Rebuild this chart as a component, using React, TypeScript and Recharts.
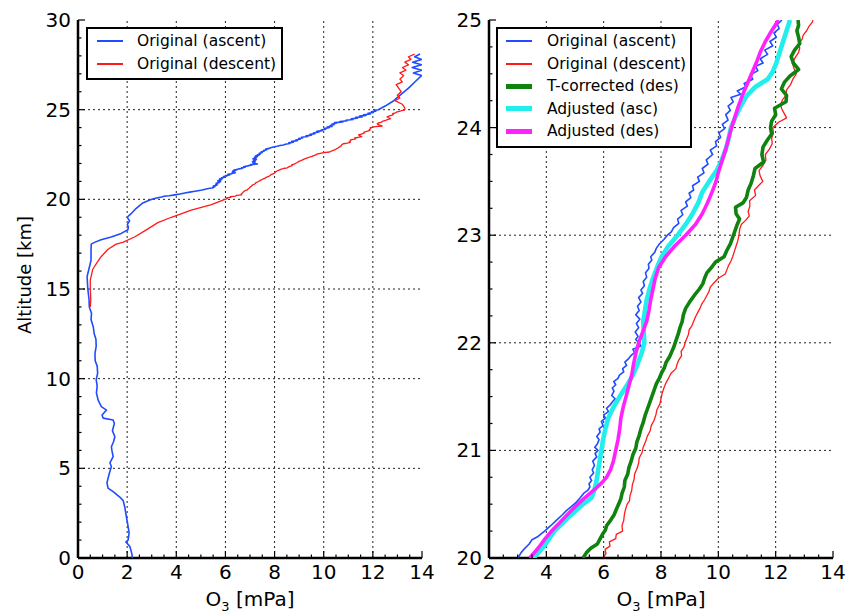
import { ScatterChart, Scatter, XAxis, YAxis, ReferenceLine, Legend } from "recharts";

// [altitude km, O3 partial pressure mPa]
type Pt = [number, number];

const ascent: Pt[] = [
  [0, 2.22], [0.3, 2.18], [0.64, 2.11], [0.9, 1.95], [1.0, 2.04], [1.4, 2.08], [1.75, 2.04], [2.3, 1.97],
  [2.86, 1.9], [3.2, 1.84], [3.4, 1.7], [3.7, 1.43], [3.9, 1.22], [4.2, 1.18], [4.7, 1.27], [5.1, 1.36],
  [5.3, 1.3], [5.65, 1.43], [6.0, 1.38], [6.2, 1.36], [6.5, 1.45], [6.76, 1.5], [7.1, 1.4], [7.5, 1.48],
  [7.7, 1.43], [7.8, 1.02], [7.97, 0.98], [8.25, 1.16], [8.44, 0.95], [8.8, 0.82], [9.2, 0.75], [9.6, 0.78],
  [9.93, 0.74], [10.3, 0.8], [10.7, 0.78], [11.0, 0.7], [11.4, 0.69], [11.8, 0.74], [12.2, 0.73], [12.5, 0.66],
  [12.9, 0.62], [13.3, 0.53], [13.65, 0.55], [14.0, 0.46], [14.4, 0.45], [15.0, 0.4], [15.7, 0.37], [16.2, 0.46],
  [16.6, 0.53], [17.2, 0.53], [17.5, 0.54], [17.6, 0.67], [17.75, 0.94], [17.9, 1.35], [18.1, 1.76], [18.3, 2.03],
  [18.45, 2.05], [18.6, 2.01], [18.8, 2.1], [19.0, 2.0], [19.2, 2.16], [19.5, 2.37], [19.8, 2.64], [19.95, 2.9],
  [20.0, 3.01], [20.05, 3.12], [20.09, 3.25], [20.13, 3.4], [20.17, 3.5], [20.2, 3.71], [20.25, 3.94], [20.3, 4.15],
  [20.35, 4.35], [20.4, 4.55], [20.44, 4.7], [20.48, 4.88], [20.52, 5.05], [20.56, 5.18], [20.6, 5.3], [20.63, 5.45],
  [20.66, 5.52], [20.69, 5.49], [20.72, 5.58], [20.75, 5.52], [20.79, 5.65], [20.82, 5.6], [20.86, 5.68], [20.9, 5.62],
  [20.94, 5.76], [20.97, 5.7], [21.0, 5.8], [21.03, 5.69], [21.06, 5.78], [21.1, 5.84], [21.13, 5.76], [21.17, 5.88],
  [21.2, 5.84], [21.23, 5.98], [21.27, 5.92], [21.3, 6.06], [21.33, 6.0], [21.36, 6.17], [21.39, 6.1], [21.42, 6.22],
  [21.45, 6.3], [21.48, 6.4], [21.51, 6.28], [21.55, 6.36], [21.58, 6.3], [21.61, 6.42], [21.64, 6.35], [21.67, 6.5],
  [21.7, 6.55], [21.73, 6.7], [21.76, 6.66], [21.79, 6.8], [21.82, 6.74], [21.85, 6.86], [21.88, 6.95], [21.91, 7.08],
  [21.94, 7.02], [21.97, 7.3], [22.0, 7.22], [22.03, 7.12], [22.06, 7.2], [22.1, 7.1], [22.14, 7.22], [22.18, 7.14],
  [22.22, 7.26], [22.26, 7.12], [22.3, 7.24], [22.34, 7.18], [22.38, 7.3], [22.42, 7.22], [22.46, 7.36], [22.49, 7.3],
  [22.53, 7.42], [22.57, 7.38], [22.61, 7.5], [22.65, 7.46], [22.69, 7.58], [22.73, 7.56], [22.77, 7.68], [22.8, 7.64],
  [22.84, 7.78], [22.88, 7.84], [22.92, 7.95], [22.96, 8.1], [23.0, 8.22], [23.03, 8.36], [23.07, 8.44], [23.11, 8.62],
  [23.15, 8.58], [23.19, 8.76], [23.23, 8.7], [23.27, 8.92], [23.31, 8.86], [23.35, 9.04], [23.39, 8.98], [23.42, 9.14],
  [23.46, 9.1], [23.5, 9.34], [23.54, 9.28], [23.58, 9.5], [23.62, 9.44], [23.66, 9.64], [23.7, 9.58], [23.75, 9.8],
  [23.79, 9.72], [23.83, 9.94], [23.87, 9.9], [23.91, 10.08], [23.95, 10.02], [23.99, 10.22], [24.03, 10.14], [24.07, 10.34],
  [24.12, 10.26], [24.16, 10.42], [24.2, 10.34], [24.24, 10.52], [24.28, 10.44], [24.31, 10.78], [24.34, 10.66], [24.38, 10.96],
  [24.41, 10.9], [24.45, 11.2], [24.49, 11.12], [24.53, 11.38], [24.57, 11.3], [24.6, 11.56], [24.64, 11.46], [24.68, 11.72],
  [24.72, 11.62], [24.76, 11.9], [24.8, 11.8], [24.84, 12.02], [24.88, 11.94], [24.92, 12.12], [24.96, 12.06], [25.0, 12.22],
  [25.2, 12.5], [25.5, 12.85], [25.8, 13.1], [26.2, 13.45], [26.6, 13.75], [26.9, 13.98], [27.05, 13.65], [27.2, 13.98],
  [27.35, 13.6], [27.5, 13.98], [27.65, 13.62], [27.8, 13.98], [27.95, 13.7], [28.1, 13.92],
];

const descent: Pt[] = [
  [14.0, 0.5], [14.4, 0.52], [15.0, 0.5], [15.5, 0.5], [16.1, 0.6], [16.4, 0.74], [16.8, 0.94], [17.2, 1.21],
  [17.5, 1.55], [17.6, 1.82], [17.9, 2.3], [18.3, 2.78], [18.7, 3.25], [19.0, 3.8], [19.4, 4.61], [19.7, 5.43],
  [19.9, 5.8], [20.0, 5.98], [20.04, 6.08], [20.08, 6.05], [20.11, 6.22], [20.15, 6.2], [20.18, 6.42], [20.22, 6.44],
  [20.25, 6.66], [20.3, 6.64], [20.35, 6.7], [20.4, 6.72], [20.45, 6.76], [20.5, 6.82], [20.53, 6.9], [20.58, 6.92],
  [20.63, 6.98], [20.68, 7.0], [20.73, 7.06], [20.78, 7.08], [20.83, 7.16], [20.88, 7.22], [20.93, 7.24], [20.98, 7.34],
  [21.03, 7.38], [21.08, 7.46], [21.13, 7.52], [21.18, 7.62], [21.23, 7.66], [21.28, 7.76], [21.33, 7.82], [21.38, 7.86],
  [21.43, 7.96], [21.48, 8.0], [21.53, 8.04], [21.58, 8.1], [21.63, 8.18], [21.68, 8.28], [21.72, 8.36], [21.76, 8.52],
  [21.8, 8.56], [21.84, 8.62], [21.88, 8.72], [21.92, 8.7], [21.96, 8.8], [22.0, 8.84], [22.04, 8.9], [22.08, 8.96],
  [22.12, 8.98], [22.16, 9.08], [22.2, 9.14], [22.24, 9.2], [22.28, 9.28], [22.32, 9.36], [22.36, 9.42], [22.4, 9.52],
  [22.44, 9.6], [22.48, 9.68], [22.52, 9.72], [22.56, 9.86], [22.6, 10.0], [22.64, 10.24], [22.68, 10.3], [22.72, 10.36],
  [22.76, 10.44], [22.8, 10.5], [22.85, 10.56], [22.9, 10.62], [22.95, 10.68], [23.0, 10.72], [23.05, 10.74], [23.1, 10.8],
  [23.14, 10.96], [23.18, 11.08], [23.22, 11.04], [23.27, 11.1], [23.32, 11.09], [23.37, 11.3], [23.42, 11.26], [23.46, 11.4],
  [23.5, 11.55], [23.55, 11.46], [23.6, 11.42], [23.65, 11.56], [23.7, 11.66], [23.75, 11.64], [23.8, 11.78], [23.85, 11.88],
  [23.9, 11.86], [23.95, 11.92], [24.0, 11.9], [24.05, 12.1], [24.09, 12.38], [24.13, 12.3], [24.18, 12.2], [24.22, 12.18],
  [24.26, 12.24], [24.3, 12.36], [24.35, 12.38], [24.4, 12.52], [24.45, 12.6], [24.5, 12.72], [24.55, 12.64], [24.6, 12.58],
  [24.65, 12.68], [24.7, 12.8], [24.74, 12.84], [24.78, 12.8], [24.82, 12.92], [24.86, 12.96], [24.9, 13.08], [24.94, 13.16],
  [24.98, 13.28], [25.0, 13.3], [25.1, 13.3], [25.3, 13.2], [25.5, 12.9], [25.65, 13.1], [25.8, 13.0], [26.0, 13.15],
  [26.2, 13.05], [26.4, 12.95], [26.55, 13.2], [26.7, 13.1], [26.9, 13.25], [27.05, 13.1], [27.2, 13.35], [27.35, 13.2],
  [27.5, 13.45], [27.65, 13.3], [27.8, 13.55], [27.95, 13.45], [28.1, 13.7],
];

const tCorrectedDes: Pt[] = [
  [20.0, 5.28], [20.05, 5.4], [20.09, 5.55], [20.13, 5.78], [20.17, 5.86], [20.22, 5.96], [20.26, 6.06], [20.3, 6.1],
  [20.35, 6.24], [20.4, 6.36], [20.45, 6.44], [20.5, 6.52], [20.55, 6.6], [20.6, 6.64], [20.66, 6.72], [20.72, 6.74],
  [20.78, 6.84], [20.84, 6.88], [20.9, 6.96], [20.96, 7.02], [21.02, 7.12], [21.08, 7.16], [21.14, 7.24], [21.2, 7.3],
  [21.26, 7.38], [21.32, 7.44], [21.38, 7.52], [21.44, 7.6], [21.5, 7.68], [21.56, 7.76], [21.62, 7.84], [21.67, 7.94],
  [21.72, 8.02], [21.77, 8.12], [21.82, 8.18], [21.87, 8.3], [21.92, 8.38], [21.97, 8.46], [22.02, 8.52], [22.08, 8.6],
  [22.14, 8.66], [22.2, 8.74], [22.26, 8.78], [22.32, 8.86], [22.38, 9.0], [22.44, 9.16], [22.5, 9.34], [22.55, 9.46],
  [22.6, 9.52], [22.65, 9.6], [22.7, 9.76], [22.75, 9.9], [22.8, 10.2], [22.86, 10.3], [22.92, 10.42], [22.98, 10.5],
  [23.04, 10.58], [23.1, 10.66], [23.15, 10.74], [23.2, 10.62], [23.26, 10.6], [23.3, 10.86], [23.35, 10.98], [23.42, 11.04],
  [23.48, 11.14], [23.55, 11.22], [23.62, 11.28], [23.68, 11.58], [23.75, 11.52], [23.82, 11.56], [23.88, 11.7], [23.94, 11.86],
  [24.0, 11.82], [24.06, 11.86], [24.12, 12.0], [24.18, 11.96], [24.24, 12.36], [24.3, 12.38], [24.36, 12.2], [24.42, 12.3],
  [24.48, 12.5], [24.54, 12.8], [24.6, 12.62], [24.66, 12.54], [24.72, 12.66], [24.78, 12.84], [24.84, 12.8], [24.9, 12.74],
  [24.95, 12.8], [25.0, 12.78],
];

const adjustedAsc: Pt[] = [
  [20.0, 3.55], [20.05, 3.72], [20.1, 3.9], [20.18, 4.1], [20.25, 4.28], [20.32, 4.55], [20.4, 4.86], [20.47, 5.15],
  [20.52, 5.38], [20.56, 5.58], [20.62, 5.66], [20.7, 5.74], [20.8, 5.8], [20.9, 5.86], [21.0, 5.92], [21.1, 5.98],
  [21.2, 6.06], [21.3, 6.16], [21.4, 6.34], [21.5, 6.56], [21.6, 6.8], [21.7, 7.02], [21.8, 7.18], [21.9, 7.32],
  [22.0, 7.42], [22.1, 7.4], [22.2, 7.38], [22.3, 7.44], [22.4, 7.5], [22.5, 7.6], [22.6, 7.72], [22.7, 7.86],
  [22.8, 8.02], [22.9, 8.26], [23.0, 8.58], [23.1, 8.86], [23.2, 9.1], [23.3, 9.3], [23.4, 9.44], [23.5, 9.68],
  [23.6, 9.94], [23.7, 10.12], [23.8, 10.26], [23.9, 10.36], [24.0, 10.44], [24.1, 10.6], [24.2, 10.78], [24.3, 11.0],
  [24.38, 11.3], [24.45, 11.72], [24.52, 11.9], [24.6, 12.02], [24.7, 12.14], [24.8, 12.26], [24.9, 12.38], [25.0, 12.5],
];

const adjustedDes: Pt[] = [
  [20.0, 3.42], [20.05, 3.58], [20.1, 3.74], [20.18, 3.96], [20.25, 4.18], [20.32, 4.44], [20.4, 4.72], [20.48, 5.02],
  [20.55, 5.3], [20.6, 5.52], [20.65, 5.74], [20.7, 5.94], [20.75, 6.1], [20.82, 6.24], [20.9, 6.34], [21.0, 6.42],
  [21.1, 6.5], [21.2, 6.56], [21.3, 6.6], [21.4, 6.68], [21.5, 6.78], [21.6, 6.88], [21.7, 6.98], [21.8, 7.04],
  [21.9, 7.12], [22.0, 7.22], [22.1, 7.36], [22.2, 7.5], [22.3, 7.58], [22.4, 7.64], [22.5, 7.72], [22.6, 7.8],
  [22.7, 7.92], [22.8, 8.16], [22.9, 8.48], [23.0, 8.86], [23.1, 9.2], [23.2, 9.44], [23.3, 9.62], [23.4, 9.78],
  [23.5, 9.92], [23.6, 10.02], [23.7, 10.14], [23.8, 10.26], [23.9, 10.36], [24.0, 10.46], [24.1, 10.58], [24.2, 10.7],
  [24.3, 10.84], [24.4, 11.0], [24.5, 11.16], [24.6, 11.32], [24.7, 11.46], [24.8, 11.64], [24.9, 11.86], [25.0, 12.1],
];

const leftXLabels = [0, 2, 4, 6, 8, 10, 12, 14];
const leftYLabels = [0, 5, 10, 15, 20, 25, 30];
const rightXLabels = [2, 4, 6, 8, 10, 12, 14];
const rightYLabels = [20, 21, 22, 23, 24, 25];

const FONT = "'DejaVu Sans', sans-serif";

const S_ASC = { name: "Original (ascent)", color: "#1f4cff", width: 1.6, key: 2 };
const S_DES = { name: "Original (descent)", color: "#ff1a1a", width: 1.3, key: 2 };
const S_TCOR = { name: "T-corrected (des)", color: "#0f820f", width: 3.6, key: 4.5 };
const S_ADJA = { name: "Adjusted (asc)", color: "#22eeee", width: 4.6, key: 5 };
const S_ADJD = { name: "Adjusted (des)", color: "#ff22ff", width: 3.6, key: 4.5 };

// minor tick positions (axis decoration only)
function steps(from: number, to: number, step: number) {
  const out: number[] = [];
  for (let v = from; v <= to + 1e-9; v += step) out.push(Math.round(v * 1000) / 1000);
  return out;
}

function rows(pts: Pt[], lo = -Infinity, hi = Infinity) {
  return pts.filter(([a]) => a >= lo && a <= hi).map(([alt, o3]) => ({ alt, o3 }));
}

const noDot = () => <g />;

function makeTick(side: "bottom" | "top" | "left" | "right", labels: number[]) {
  return (props: any) => {
    const { x, y, payload } = props;
    const v = payload.value;
    const major = labels.includes(v);
    const len = major ? 7 : 3.5;
    const line = { stroke: "#000", strokeWidth: 1.2 };
    if (side === "bottom")
      return (
        <g>
          <line x1={x} x2={x} y1={y} y2={y - len} {...line} />
          {major && (
            <text x={x} y={y + 21} textAnchor="middle" fontSize={20} fontFamily={FONT} fill="#000">
              {v}
            </text>
          )}
        </g>
      );
    if (side === "top") return <line x1={x} x2={x} y1={y} y2={y + len} {...line} />;
    if (side === "right") return <line x1={x} x2={x - len} y1={y} y2={y} {...line} />;
    return (
      <g>
        <line x1={x} x2={x + len} y1={y} y2={y} {...line} />
        {major && (
          <text x={x - 7} y={y + 7} textAnchor="end" fontSize={20} fontFamily={FONT} fill="#000">
            {v}
          </text>
        )}
      </g>
    );
  };
}

function xTitle(props: any) {
  const { x, y, width } = props.viewBox;
  return (
    <text x={x + width / 2} y={y + 48} textAnchor="middle" fontSize={20} fontFamily={FONT} fill="#000">
      O<tspan fontSize={13} dy={5}>3</tspan>
      <tspan dy={-5}> [mPa]</tspan>
    </text>
  );
}

function yTitle(props: any) {
  const { y, height } = props.viewBox;
  const cy = y + height / 2 - 14;
  return (
    <text
      x={24}
      y={cy}
      transform={`rotate(-90 24 ${cy})`}
      textAnchor="middle"
      dominantBaseline="central"
      fontSize={18}
      fontFamily={FONT}
      fill="#000"
    >
      Altitude [km]
    </text>
  );
}

function LegendBox({ items, width, textGap, inset }: { items: typeof S_ASC[]; width: number; textGap: number; inset: number }) {
  return (
    <div
      style={{
        boxSizing: "border-box",
        width,
        border: "2px solid #000",
        background: "#fff",
        padding: "1px 0 3px 0",
        fontFamily: FONT,
        fontSize: 15.5,
        color: "#000",
      }}
    >
      {items.map((it) => (
        <div key={it.name} style={{ display: "flex", alignItems: "center", height: 22.5, whiteSpace: "nowrap" }}>
          <span style={{ display: "inline-block", marginLeft: inset, width: 26, height: it.key, background: it.color }} />
          <span style={{ marginLeft: textGap }}>{it.name}</span>
        </div>
      ))}
    </div>
  );
}

const axisLine = { stroke: "#000", strokeWidth: 2.5 };
const grid = { stroke: "#222", strokeWidth: 1, strokeDasharray: "2 3" };

function Panel(props: {
  width: number;
  yAxisWidth: number;
  right: number;
  xDomain: [number, number];
  yDomain: [number, number];
  xLabels: number[];
  yLabels: number[];
  xMinor: number;
  yMinor: number;
  series: { style: typeof S_ASC; data: { alt: number; o3: number }[] }[];
  legend: { left: number; width: number; textGap: number; inset: number };
  yTitle?: boolean;
}) {
  const xTicks = steps(props.xDomain[0], props.xDomain[1], props.xMinor);
  const yTicks = steps(props.yDomain[0], props.yDomain[1], props.yMinor);
  const inner = (vals: number[], d: [number, number]) => vals.filter((v) => v > d[0] && v < d[1]);
  return (
    <ScatterChart width={props.width} height={614} margin={{ top: 20, right: props.right, bottom: 0, left: 0 }}>
      <XAxis
        type="number"
        dataKey="o3"
        domain={props.xDomain}
        allowDataOverflow
        ticks={xTicks}
        interval={0}
        tickSize={0}
        tickMargin={0}
        tickLine={false}
        tick={makeTick("bottom", props.xLabels)}
        axisLine={axisLine}
        height={56}
        label={xTitle}
      />
      <XAxis
        xAxisId="top"
        orientation="top"
        type="number"
        domain={props.xDomain}
        allowDataOverflow
        ticks={xTicks}
        interval={0}
        tickSize={0}
        tickMargin={0}
        tickLine={false}
        tick={makeTick("top", props.xLabels)}
        axisLine={axisLine}
        height={0}
      />
      <YAxis
        type="number"
        dataKey="alt"
        domain={props.yDomain}
        allowDataOverflow
        ticks={yTicks}
        interval={0}
        tickSize={0}
        tickMargin={0}
        tickLine={false}
        tick={makeTick("left", props.yLabels)}
        axisLine={axisLine}
        width={props.yAxisWidth}
        label={props.yTitle ? yTitle : undefined}
      />
      <YAxis
        yAxisId="right"
        orientation="right"
        type="number"
        domain={props.yDomain}
        allowDataOverflow
        ticks={yTicks}
        interval={0}
        tickSize={0}
        tickMargin={0}
        tickLine={false}
        tick={makeTick("right", props.yLabels)}
        axisLine={axisLine}
        width={0}
      />
      {inner(props.xLabels, props.xDomain).map((v) => (
        <ReferenceLine key={`gx${v}`} x={v} {...grid} />
      ))}
      {inner(props.yLabels, props.yDomain).map((v) => (
        <ReferenceLine key={`gy${v}`} y={v} {...grid} />
      ))}
      {props.series.map((s) => (
        <Scatter
          key={s.style.name}
          name={s.style.name}
          data={s.data}
          shape={noDot}
          line={{ stroke: s.style.color, strokeWidth: s.style.width, strokeLinejoin: "round", fill: "none" }}
          isAnimationActive={false}
        />
      ))}
      <Legend
        layout="vertical"
        align="center"
        verticalAlign="middle"
        wrapperStyle={{ left: props.legend.left, top: 27, width: props.legend.width }}
        content={() => (
          <LegendBox
            items={props.series.map((s) => s.style)}
            width={props.legend.width}
            textGap={props.legend.textGap}
            inset={props.legend.inset}
          />
        )}
      />
    </ScatterChart>
  );
}

export default function App() {
  return (
    <div style={{ position: "absolute", left: 0, top: 0, width: 849, height: 614, background: "#fff", fontFamily: FONT }}>
      <div style={{ position: "absolute", left: 0, top: 0 }}>
        <Panel
          width={440}
          yAxisWidth={78}
          right={18}
          xDomain={[0, 14]}
          yDomain={[0, 30]}
          xLabels={leftXLabels}
          yLabels={leftYLabels}
          xMinor={0.5}
          yMinor={1}
          yTitle
          series={[
            { style: S_ASC, data: rows(ascent) },
            { style: S_DES, data: rows(descent) },
          ]}
          legend={{ left: 86, width: 197, textGap: 14, inset: 9 }}
        />
      </div>
      <div style={{ position: "absolute", left: 440, top: 0 }}>
        <Panel
          width={409}
          yAxisWidth={49}
          right={16}
          xDomain={[2, 14]}
          yDomain={[20, 25]}
          xLabels={rightXLabels}
          yLabels={rightYLabels}
          xMinor={0.5}
          yMinor={0.25}
          series={[
            { style: S_ASC, data: rows(ascent, 20, 25) },
            { style: S_DES, data: rows(descent, 20, 25) },
            { style: S_TCOR, data: rows(tCorrectedDes) },
            { style: S_ADJA, data: rows(adjustedAsc) },
            { style: S_ADJD, data: rows(adjustedDes) },
          ]}
          legend={{ left: 56, width: 196, textGap: 15, inset: 8 }}
        />
      </div>
    </div>
  );
}
